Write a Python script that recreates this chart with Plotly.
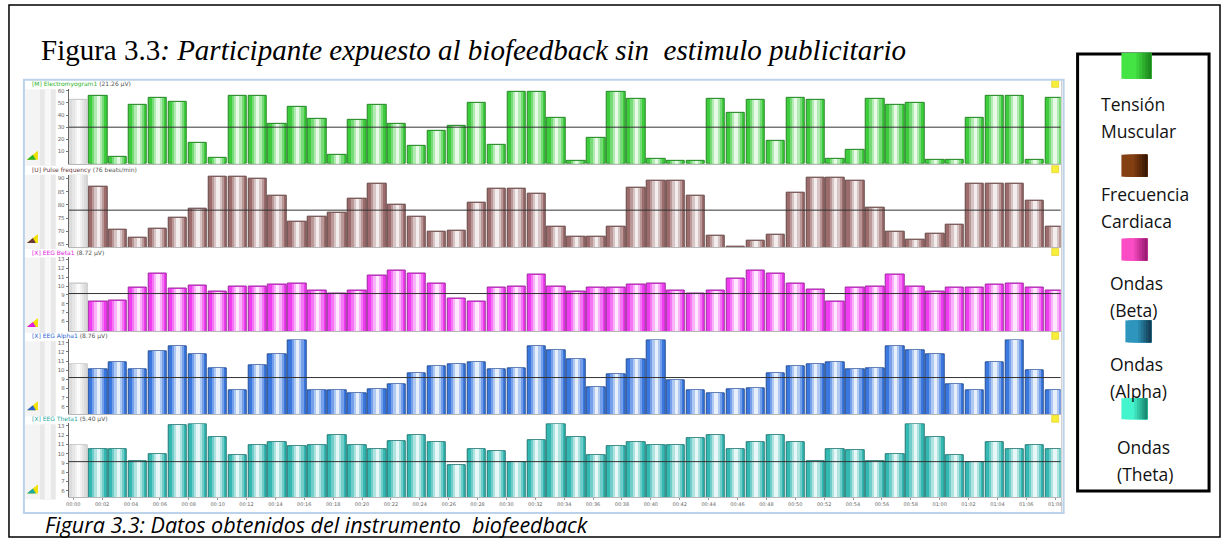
import plotly.graph_objects as go

# ---------------------------------------------------------------- data
# Sample epochs (seconds from start of recording)
sample_t = [round(0.34 + 1.38 * i, 2) for i in range(50)]

# Live value shown in the grey column at the start of each channel
current_value = {"emg": 52.8, "pulse": 91.4, "beta": 10.3, "alpha": 10.6, "theta": 10.9}

emg = [55.5, 6, 48, 54, 51, 17, 5, 56, 56, 32.5,
       46.4, 36.5, 7.5, 35.7, 48.5, 33, 14.4, 27.2, 31.2, 50.4,
       15.7, 59, 59, 37.6, 2, 21.3, 59, 53.3, 4, 2.4,
       2, 53.6, 42, 52.5, 18.4, 54, 52.8, 4, 11.5, 53.6,
       48.5, 49.6, 3.5, 3.5, 37.9, 55.5, 55.5, 3.2, 54]

pulse = [87, 70.7, 67.7, 70.9, 75.2, 78.6, 90.8, 90.8, 90, 83.4,
         73.7, 75.5, 76.9, 82.2, 88.1, 80, 75.6, 69.7, 70.4, 81,
         86.1, 86.1, 84.2, 71.7, 67.9, 67.9, 71.7, 86.5, 89.2, 89.2,
         83.6, 68.5, 64.2, 66.4, 68.8, 84.7, 90.4, 90.4, 89, 78.9,
         69.9, 66.9, 69, 72.6, 87.9, 87.9, 87.9, 81.7, 71.7]

beta = [8.2, 8.4, 9.8, 11.4, 9.7, 10.1, 9.4, 9.9, 9.9, 10.2,
        10.3, 9.5, 9.1, 9.5, 11.2, 11.8, 11.4, 10.3, 8.6, 8.2,
        9.8, 10.0, 11.3, 10.0, 9.4, 9.8, 9.8, 10.2, 10.3, 9.5,
        9.1, 9.5, 10.9, 11.7, 11.4, 10.3, 9.6, 8.2, 9.8, 10.0,
        11.3, 10.0, 9.4, 9.8, 9.8, 10.2, 10.3, 9.8, 9.5]

alpha = [10.07, 10.9, 10.07, 12.1, 12.6, 11.7, 10.2, 7.8, 10.5, 11.7,
         13.3, 7.8, 7.8, 7.45, 7.9, 8.5, 9.7, 10.4, 10.6, 10.9,
         10.1, 10.2, 12.6, 12.2, 11.2, 8.1, 9.5, 11.2, 13.3, 8.9,
         7.8, 7.45, 7.95, 8.0, 9.7, 10.4, 10.6, 10.9, 10.1, 10.2,
         12.6, 12.2, 11.7, 8.5, 7.8, 10.9, 13.3, 10.0, 7.8]

theta = [10.5, 10.45, 9.2, 10.0, 13.1, 13.15, 11.75, 9.85, 10.95, 11.3,
         10.85, 10.95, 12.05, 10.9, 10.5, 11.4, 12.0, 11.3, 8.8, 10.5,
         10.3, 9.05, 11.5, 13.15, 11.75, 9.85, 10.85, 11.3, 10.9, 10.95,
         11.7, 12.05, 10.5, 11.3, 12.0, 11.3, 9.2, 10.5, 10.4, 9.2,
         10.0, 13.15, 11.75, 9.85, 9.1, 11.3, 10.5, 10.95, 10.5]

# Threshold line drawn across each channel
threshold = {"emg": 30, "pulse": 78.0, "beta": 9.15, "alpha": 9.2, "theta": 9.15}

channel_names = {
    "emg": ("[M] Electromyogram1", "(21.26 µV)"),
    "pulse": ("[U] Pulse frequency", "(76 beats/min)"),
    "beta": ("[X] EEG Beta1", "(8.72 µV)"),
    "alpha": ("[X] EEG Alpha1", "(8.76 µV)"),
    "theta": ("[X] EEG Theta1", "(5.40 µV)"),
}

y_ticks = {
    "emg": [10, 20, 30, 40, 50, 60],
    "pulse": [65, 70, 75, 80, 85, 90],
    "beta": [6, 7, 8, 9, 10, 11, 12, 13],
    "alpha": [6, 7, 8, 9, 10, 11, 12, 13],
    "theta": [6, 7, 8, 9, 10, 11, 12, 13],
}

time_ticks = list(range(0, 69, 2))
time_labels = [f"{s // 60:02d}:{s % 60:02d}" for s in time_ticks]

legend_items = [
    (["Tensión", "Muscular"], "#44e444", "#1f8a1f"),
    (["Frecuencia", "Cardiaca"], "#843f12", "#3a1804"),
    (["Ondas", "(Beta)"], "#fa4cc4", "#9c1c74"),
    (["Ondas", "(Alpha)"], "#2e95bd", "#143f55"),
    (["Ondas", "(Theta)"], "#44f4cc", "#1b8a72"),
]

# ---------------------------------------------------------------- styling
W, H = 1225, 541
channels = ["emg", "pulse", "beta", "alpha", "theta"]
series = {"emg": emg, "pulse": pulse, "beta": beta, "alpha": alpha, "theta": theta}
base_col = {"emg": "#3ccc3c", "pulse": "#9c6c6c", "beta": "#f03cf0",
            "alpha": "#3a78e0", "theta": "#34b8b2"}
head_col = {"emg": "#2cb52c", "pulse": "#6b3a3a", "beta": "#e020e0",
            "alpha": "#2a62d0", "theta": "#1ea8a2"}
# (top px, bottom px, y-range) for each channel strip
panel_px = {"emg": (88, 163, [0, 61.5]),
            "pulse": (174, 246.5, [64.06, 91.4]),
            "beta": (256, 330.7, [4.9, 13.34]),
            "alpha": (339, 414, [5.2, 13.36]),
            "theta": (423, 497.3, [5.29, 13.3])}
header_px = {"emg": 83.5, "pulse": 169, "beta": 252, "alpha": 336, "theta": 419}
X0, X1 = 66, 1062
XRANGE = [-0.31, 68.38]
BAR_W = 1.276


def px(x):
    return x / W


def py(y):
    return 1 - y / H


def mix(hexc, other, f):
    a = [int(hexc[i:i + 2], 16) for i in (1, 3, 5)]
    b = [int(other[i:i + 2], 16) for i in (1, 3, 5)]
    c = [round(a[k] + (b[k] - a[k]) * f) for k in range(3)]
    return "#%02x%02x%02x" % tuple(c)


# cylinder-like shading: full bar, then narrower lighter bars on top
layers = [(1.0, 0.0), (0.66, 0.3), (0.42, 0.6), (0.18, 0.88)]

fig = go.Figure()
layout = dict()
shapes = []
annotations = []

for k, ch in enumerate(channels, start=1):
    xa = "x" if k == 1 else f"x{k}"
    ya = "y" if k == 1 else f"y{k}"
    top, bot, yr = panel_px[ch]
    col = base_col[ch]
    vals = series[ch]
    for frac, light in layers:
        fig.add_trace(go.Bar(
            x=sample_t[1:], y=vals, width=BAR_W * frac,
            marker=dict(color=mix(col, "#ffffff", light),
                        line=dict(color=mix(col, "#000000", 0.35) if frac == 1.0 else "rgba(0,0,0,0)",
                                  width=1 if frac == 1.0 else 0)),
            xaxis=xa, yaxis=ya, showlegend=False, hoverinfo="skip"))
        fig.add_trace(go.Bar(
            x=[sample_t[0]], y=[current_value[ch]], width=BAR_W * frac,
            marker=dict(color=mix("#dcdcdc", "#ffffff", light),
                        line=dict(color="#c4c4c4" if frac == 1.0 else "rgba(0,0,0,0)",
                                  width=1 if frac == 1.0 else 0)),
            xaxis=xa, yaxis=ya, showlegend=False, hoverinfo="skip"))

    last = k == len(channels)
    layout["xaxis" if k == 1 else f"xaxis{k}"] = dict(
        domain=[px(X0), px(X1)], range=XRANGE, anchor=ya,
        showgrid=False, zeroline=False, showline=True, linecolor="#b8b8b8", linewidth=1,
        tickvals=time_ticks, ticktext=time_labels,
        showticklabels=last, ticks="outside" if last else "", ticklen=2, tickcolor="#999",
        tickfont=dict(size=5, color="#666", family="DejaVu Sans"))
    layout["yaxis" if k == 1 else f"yaxis{k}"] = dict(
        domain=[py(bot), py(top)], range=yr, anchor=xa,
        showgrid=False, zeroline=False, showline=True, linecolor="#666", linewidth=1,
        tickvals=y_ticks[ch], ticks="outside", ticklen=2, tickcolor="#777",
        tickfont=dict(size=5.5, color="#666", family="DejaVu Sans"))

    # threshold line
    shapes.append(dict(type="line", xref="paper", yref=ya, x0=px(X0), x1=px(X1),
                       y0=threshold[ch], y1=threshold[ch],
                       line=dict(color="#333333", width=1)))
    # left strip
    shapes.append(dict(type="rect", xref="paper", yref="paper", layer="below",
                       x0=px(22), x1=px(37), y0=py(bot + 2), y1=py(header_px[ch] + 5),
                       fillcolor="#f4f4f4", line=dict(width=0)))
    shapes.append(dict(type="rect", xref="paper", yref="paper", layer="below",
                       x0=px(37), x1=px(53), y0=py(bot + 2), y1=py(header_px[ch] + 5),
                       fillcolor="#e8e8e8", line=dict(width=0)))
    shapes.append(dict(type="rect", xref="paper", yref="paper", layer="below",
                       x0=px(42), x1=px(48), y0=py(bot + 2), y1=py(header_px[ch] + 5),
                       fillcolor="#f8f8f8", line=dict(width=0)))
    # channel icon
    iy = bot - 4
    shapes.append(dict(type="path", xref="paper", yref="paper",
                       path=f"M {px(24)} {py(iy)} L {px(35)} {py(iy - 9)} L {px(35)} {py(iy)} Z",
                       fillcolor="#f2e000", line=dict(width=0)))
    shapes.append(dict(type="path", xref="paper", yref="paper",
                       path=f"M {px(24)} {py(iy)} L {px(30)} {py(iy - 5)} L {px(33)} {py(iy)} Z",
                       fillcolor=head_col[ch], line=dict(width=0)))
    # yellow marker at top right
    shapes.append(dict(type="rect", xref="paper", yref="paper",
                       x0=px(1053), x1=px(1060), y0=py(header_px[ch] + 3), y1=py(header_px[ch] - 4),
                       fillcolor="#f7ee3a", line=dict(color="#d8c400", width=0.5)))
    # header text
    name, val = channel_names[ch]
    annotations.append(dict(
        xref="paper", yref="paper", x=px(27), y=py(header_px[ch]), xanchor="left", yanchor="middle",
        showarrow=False,
        text=f"<span style='color:{head_col[ch]}'>{name}</span> <span style='color:#555'>{val}</span>",
        font=dict(size=6, family="DejaVu Sans")))

# window frame of the recording software
shapes.append(dict(type="rect", xref="paper", yref="paper",
                   x0=px(21), x1=px(1065), y0=py(513), y1=py(79),
                   line=dict(color="#bcd2ea", width=2)))
shapes.append(dict(type="line", xref="paper", yref="paper",
                   x0=px(1063), x1=px(1063), y0=py(512), y1=py(80),
                   line=dict(color="#c8c8c8", width=1)))

# outer page border
shapes.append(dict(type="rect", xref="paper", yref="paper",
                   x0=px(6), x1=px(1222), y0=py(537), y1=py(4),
                   line=dict(color="#000000", width=1.5)))

# legend panel
shapes.append(dict(type="rect", xref="paper", yref="paper",
                   x0=px(1079), x1=px(1211), y0=py(491), y1=py(53),
                   line=dict(color="#000000", width=3)))
legend_sq = [(1123, 52, 30, 26), (1123, 154, 26, 22), (1123, 238, 26, 22),
             (1127, 320, 26, 22), (1123, 398, 26, 21)]
# (x of text, y of first line, y of second line)
legend_txt = [(1100, 103, 130), (1100, 193, 220), (1110, 283, 310),
              (1110, 364, 391), (1117, 447, 474)]
for (lines, c1, c2), (sx, sy, sw, sh), (tx, ty1, ty2) in zip(legend_items, legend_sq, legend_txt):
    n = 10
    # each strip runs to the right edge so the later, darker ones overlap cleanly
    for j in range(n):
        shapes.append(dict(type="rect", xref="paper", yref="paper",
                           x0=px(sx + sw * j / n), x1=px(sx + sw),
                           y0=py(sy + sh), y1=py(sy),
                           fillcolor=mix(c1, c2, max(0.0, (j - 4) / (n - 5))),
                           line=dict(width=0)))
    for line_text, ty in zip(lines, (ty1, ty2)):
        annotations.append(dict(xref="paper", yref="paper", x=px(tx), y=py(ty),
                                xanchor="left", yanchor="middle", showarrow=False,
                                text=line_text,
                                font=dict(size=17.5, family="Open Sans", color="#111")))

# title and caption
annotations.append(dict(
    xref="paper", yref="paper", x=px(36), y=py(49), xanchor="left", yanchor="middle",
    showarrow=False,
    text="Figura 3.3<i>: Participante expuesto al biofeedback sin&nbsp; estimulo publicitario</i>",
    font=dict(size=29, family="Liberation Serif", color="#000")))
annotations.append(dict(
    xref="paper", yref="paper", x=px(40), y=py(524), xanchor="left", yanchor="middle",
    showarrow=False,
    text="<i>Figura 3.3: Datos obtenidos del instrumento&nbsp; biofeedback</i>",
    font=dict(size=21.5, family="Open Sans", color="#000")))

fig.update_layout(
    width=W, height=H, margin=dict(l=0, r=0, t=0, b=0),
    paper_bgcolor="#ffffff", plot_bgcolor="#ffffff",
    barmode="overlay", bargap=0, showlegend=False,
    shapes=shapes, annotations=annotations, **layout)

fig.write_html("out.html")
